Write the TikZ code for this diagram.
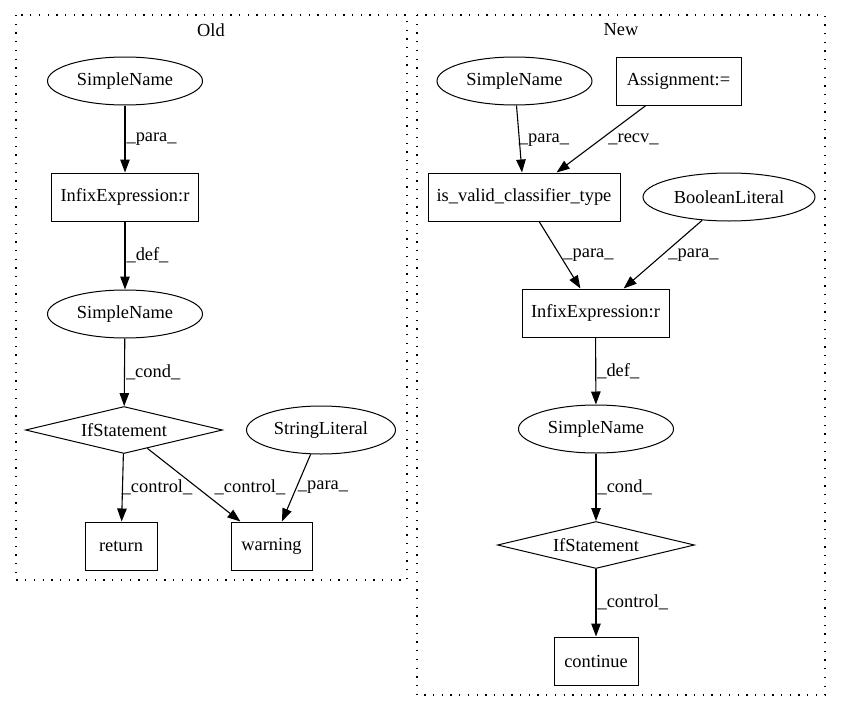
\documentclass[tikz,border=0pt]{standalone}
\usepackage{fontspec}
\setmainfont{Liberation Serif}
\usetikzlibrary{shapes.geometric,arrows.meta}
\begin{document}
\begin{tikzpicture}[x=1pt,y=-1pt,
  every node/.style={font=\fontsize{18.4}{20}\selectfont},
  ell/.style={draw,ellipse,minimum height=48pt,inner sep=0pt,line width=1pt},
  box/.style={draw,rectangle,minimum height=48pt,inner sep=0pt,line width=1pt},
  dia/.style={draw,diamond,aspect=4.2,minimum width=197pt,minimum height=47pt,inner sep=0pt,line width=1pt},
  lbl/.style={inner sep=0pt},
  vlbl/.style={inner sep=0pt,anchor=west,midway,xshift=1pt},
  conn/.style={-{Triangle[length=13pt,width=9.5pt]},line width=1.1pt},
  cluster/.style={dash pattern=on 1.3pt off 7.4pt,line width=1.3pt}
]
\useasboundingbox (0,0) rectangle (841,712);
% clusters
\draw[cluster] (16,15) rectangle (407,580);
\node (told) at (211,30) {Old};
\draw[cluster] (417,15) rectangle (825,695);
\node (tnew) at (621,30) {New};
% Old nodes
\node[ell,minimum width=155pt] (o1) at (125,81) {SimpleName};
\node[box,minimum width=147pt] (o2) at (125,197) {InfixExpression:r};
\node[ell,minimum width=155pt] (o3) at (125,314) {SimpleName};
\node[dia] (o4) at (124,430) {IfStatement};
\node[box,minimum width=72pt] (o5) at (121,546) {return};
\node[box,minimum width=81pt] (o6) at (271.5,546) {warning};
\node[ell,minimum width=149pt] (o7) at (321,430) {StringLiteral};
% New nodes
\node[ell,minimum width=155pt] (n1) at (514.5,81) {SimpleName};
\node[box,minimum width=125pt] (n2) at (678.5,81) {Assignment:=};
\node[box,minimum width=192pt] (n3) at (524,197) {is\_valid\_classifier\_type};
\node[ell,minimum width=172pt] (n4) at (729,197) {BooleanLiteral};
\node[box,minimum width=147pt] (n5) at (595.5,313) {InfixExpression:r};
\node[ell,minimum width=155pt] (n6) at (596,429) {SimpleName};
\node[dia] (n7) at (596,545) {IfStatement};
\node[box,minimum width=84pt] (n8) at (596,661) {continue};
% Old edges
\draw[conn] (o1) -- (o2) node[vlbl] (lo1) {\_para\_};
\draw[conn] (o2) -- (o3) node[vlbl] (lo2) {\_def\_};
\draw[conn] (o3) -- (o4) node[vlbl] (lo3) {\_cond\_};
\draw[conn] (o4) -- (o5);
\draw[conn] (o4) -- (o6);
\draw[conn] (o7) -- (o6);
\node[lbl] (lo4) at (157,487) {\_control\_};
\node[lbl] (lo5) at (250,487) {\_control\_};
\node[lbl] (lo6) at (323,487) {\_para\_};
% New edges
\draw[conn] (n1) -- (n3);
\draw[conn] (n2) -- (n3);
\draw[conn] (n3) -- (n5);
\draw[conn] (n4) -- (n5);
\draw[conn] (n5) -- (n6) node[vlbl] (ln5) {\_def\_};
\draw[conn] (n6) -- (n7) node[vlbl] (ln6) {\_cond\_};
\draw[conn] (n7) -- (n8) node[vlbl] (ln7) {\_control\_};
\node[lbl] (ln1) at (544,140) {\_para\_};
\node[lbl] (ln2) at (633.5,139) {\_recv\_};
\node[lbl] (ln3) at (588.5,255) {\_para\_};
\node[lbl] (ln4) at (693.5,255) {\_para\_};
\end{tikzpicture}
\end{document}
